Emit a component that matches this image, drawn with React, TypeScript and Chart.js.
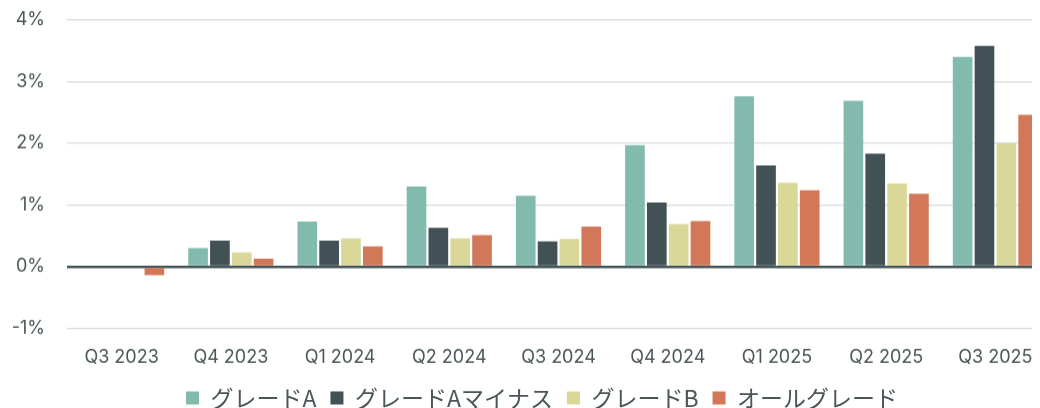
import React, { useEffect, useRef } from "react";
import { Chart, registerables } from "chart.js";

Chart.register(...registerables);

const categories = ["Q3 2023", "Q4 2023", "Q1 2024", "Q2 2024", "Q3 2024", "Q4 2024", "Q1 2025", "Q2 2025", "Q3 2025"];
const seriesNames = ["グレードA", "グレードAマイナス", "グレードB", "オールグレード"];
const gradeA = [0, 0.3, 0.73, 1.3, 1.15, 1.97, 2.76, 2.69, 3.4];
const gradeAMinus = [0, 0.42, 0.42, 0.63, 0.41, 1.04, 1.64, 1.83, 3.58];
const gradeB = [0, 0.23, 0.46, 0.46, 0.45, 0.69, 1.36, 1.35, 2.0];
const allGrades = [-0.14, 0.13, 0.33, 0.51, 0.65, 0.74, 1.24, 1.18, 2.46];
const colors = ["#82bbad", "#415155", "#dad899", "#d27858"];
const yTicks = [-1, 0, 1, 2, 3, 4];

const shiftLegend = {
  id: "shiftLegend",
  afterLayout(chart: any) {
    const l = chart.legend;
    if (l) {
      l.left += 13;
      l.right += 13;
    }
  },
};

export default function App() {
  const ref = useRef<HTMLCanvasElement | null>(null);
  useEffect(() => {
    document.body.style.overflow = "hidden";
    const values = [gradeA, gradeAMinus, gradeB, allGrades];
    const chart = new Chart(ref.current!, {
      type: "bar",
      data: {
        labels: categories,
        datasets: values.map((v, i) => ({
          label: seriesNames[i],
          data: v,
          backgroundColor: colors[i],
          borderWidth: 0,
        })),
      },
      plugins: [shiftLegend],
      options: {
        animation: false,
        responsive: true,
        maintainAspectRatio: false,
        layout: { padding: 0 },
        plugins: {
          tooltip: { enabled: false },
          legend: {
            position: "bottom",
            labels: {
              boxWidth: 13,
              boxHeight: 13,
              padding: 14,
              color: "#4a5658",
              font: { family: "'Noto Sans CJK JP', Inter, sans-serif", size: 23 },
            },
          },
        },
        scales: {
          x: {
            grid: { display: false },
            border: { display: false },
            afterFit: (scale: any) => {
              scale.height = 44;
            },
            ticks: { color: "#4a5658", font: { family: "Inter, sans-serif", size: 18 }, padding: 10 },
          },
          y: {
            min: -1,
            max: 4,
            afterBuildTicks: (axis: any) => {
              axis.ticks = yTicks.map((v) => ({ value: v }));
            },
            afterFit: (scale: any) => {
              scale.width = 59;
            },
            border: { display: false },
            grid: {
              color: (ctx: any) => (ctx.tick && ctx.tick.value === 0 ? "#415155" : "#d3dbda"),
              lineWidth: (ctx: any) => (ctx.tick && ctx.tick.value === 0 ? 2.5 : 1.2),
              drawTicks: false,
            },
            ticks: {
              color: "#4a5658",
              font: { family: "Inter, sans-serif", size: 18 },
              padding: 22,
              callback: (v: any) => `${v}%`,
            },
          },
        },
      },
    });
    return () => chart.destroy();
  }, []);
  return (
    <div style={{ width: 1042, height: 431.5, marginTop: -21, position: "relative" }}>
      <canvas ref={ref} />
    </div>
  );
}
